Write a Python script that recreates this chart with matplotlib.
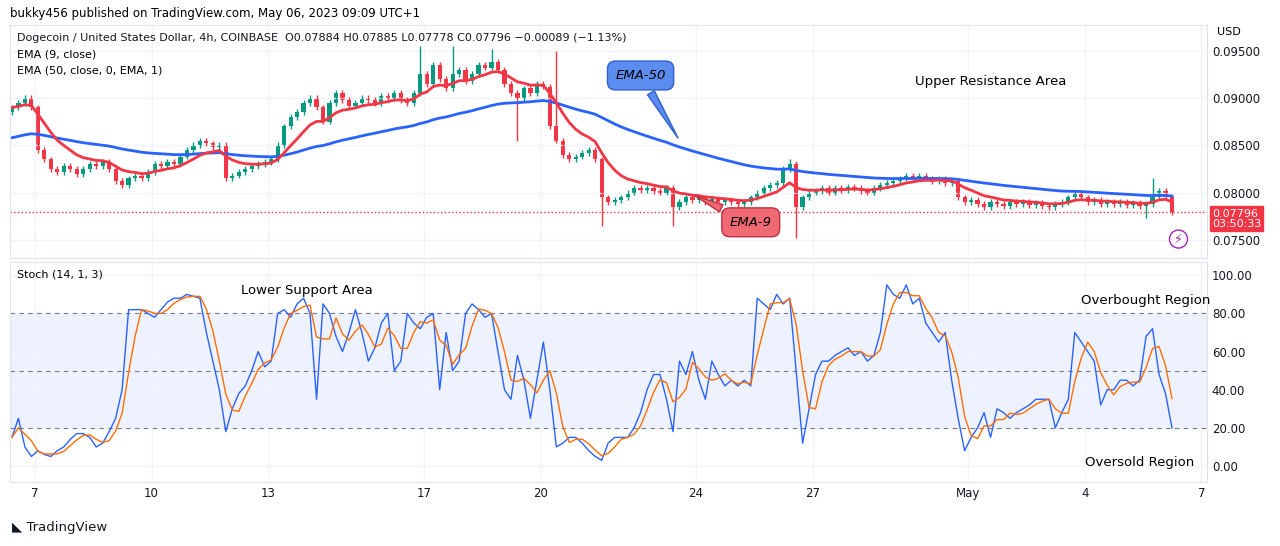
import numpy as np
import pandas as pd
import matplotlib
matplotlib.use("Agg")
import matplotlib.pyplot as plt

closes = [
0.0890,0.0895,0.0900,0.0890,0.0845,0.0835,0.0825,0.0822,0.0828,0.0825,
0.0820,0.0825,0.0830,0.0828,0.0832,0.0825,0.0812,0.0808,0.0815,0.0818,
0.0815,0.0822,0.0830,0.0828,0.0832,0.0830,0.0838,0.0845,0.0850,0.0855,
0.0852,0.0848,0.0850,0.0815,0.0818,0.0822,0.0825,0.0828,0.0830,0.0832,
0.0835,0.0850,0.0870,0.0880,0.0885,0.0895,0.0900,0.0890,0.0875,0.0895,
0.0905,0.0898,0.0892,0.0895,0.0900,0.0898,0.0895,0.0902,0.0900,0.0905,
0.0898,0.0895,0.0905,0.0925,0.0915,0.0935,0.0920,0.0910,0.0925,0.0930,
0.0918,0.0925,0.0935,0.0932,0.0938,0.0930,0.0915,0.0905,0.0900,0.0910,
0.0905,0.0915,0.0912,0.0870,0.0855,0.0840,0.0835,0.0838,0.0842,0.0845,
0.0835,0.0795,0.0790,0.0792,0.0795,0.0800,0.0805,0.0803,0.0805,0.0802,
0.0800,0.0805,0.0785,0.0790,0.0795,0.0792,0.0795,0.0790,0.0793,0.0790,
0.0792,0.0790,0.0788,0.0790,0.0795,0.0800,0.0805,0.0808,0.0810,0.0825,
0.0830,0.0785,0.0795,0.0800,0.0802,0.0805,0.0800,0.0805,0.0803,0.0806,
0.0805,0.0802,0.0800,0.0805,0.0808,0.0810,0.0812,0.0815,0.0818,0.0815,
0.0818,0.0815,0.0812,0.0815,0.0810,0.0812,0.0795,0.0790,0.0792,0.0788,
0.0785,0.0790,0.0788,0.0786,0.0790,0.0788,0.0790,0.0787,0.0789,0.0786,
0.0785,0.0788,0.0790,0.0795,0.0800,0.0795,0.0790,0.0792,0.0788,0.0790,
0.0788,0.0790,0.0787,0.0789,0.0786,0.0788,0.0795,0.0802,0.0795,0.07796]
first_open = 0.0885
spikes = {63: (0.0955, None), 68: (0.0955, None), 74: (0.0952, None), 78: (None, 0.0855),
          84: (0.0950, None), 91: (None, 0.0765), 102: (None, 0.0765), 120: (0.0835, None),
          121: (None, 0.0752), 176: (0.0815, None), 175: (None, 0.0773)}
stoch_k = [
15,25,10,5,8,6,5,8,10,14, 17,17,15,10,12,18,25,40,82,82,
82,80,78,82,86,88,88,90,89,88, 70,55,40,18,30,38,42,50,60,52,
55,80,82,78,85,88,80,35,85,80, 68,60,70,82,70,55,62,75,80,50,
55,80,75,72,78,80,40,70,50,55, 80,85,82,78,80,60,40,35,58,45,
25,45,65,40,10,12,15,15,12,8, 5,3,12,15,15,15,20,28,40,48,
48,35,18,55,48,60,45,35,55,48, 42,45,42,45,42,88,85,82,90,85,
88,50,12,30,48,55,55,58,60,62, 58,60,55,58,70,95,90,88,95,85,
88,75,70,65,70,45,25,8,15,20, 28,15,30,28,25,28,30,32,35,35,
35,20,28,35,70,65,60,55,32,40, 40,45,45,42,45,68,72,48,38,20]
ema50_seed = 0.0858
day_labels = ["7","10","13","17","20","24","27","May","4","7"]
day_offsets = [0,3,6,10,13,17,20,24,27,30]
price_ticks = [0.075,0.080,0.085,0.090,0.095]
stoch_ticks = [0,20,40,60,80,100]

GREEN, RED, BLUE, ORANGE = "#089981", "#f23645", "#2962ff", "#ff6d00"
c = np.array(closes); n = len(c)
o = np.concatenate([[first_open], c[:-1]])
hi = np.maximum(o, c) + 0.0003; lo = np.minimum(o, c) - 0.0003
for i,(h,l) in spikes.items():
    if h: hi[i] = h
    if l: lo[i] = l
idx = np.arange(n)
ema9 = pd.Series(c).ewm(span=9, adjust=False).mean()
e50 = [ema50_seed]; a = 2/51
for v in c[1:]: e50.append(e50[-1] + a*(v - e50[-1]))
k = pd.Series(stoch_k, dtype=float); d = k.rolling(3, min_periods=1).mean()
xt = [3.55 + 6.0*dd for dd in day_offsets]

fig = plt.figure(figsize=(12.8,5.46), dpi=100)
ax = fig.add_axes([10/1280, 1-258/546, 1197/1280, 233/546])
ax2 = fig.add_axes([10/1280, 1-482/546, 1197/1280, 220/546])
for a_ in (ax, ax2):
    a_.set_xlim(-0.3, 184.4)
    for s in a_.spines.values(): s.set_color("#e0e3eb")
    a_.set_xticks(xt); a_.grid(True, color="#f0f3fa", lw=1)
    a_.yaxis.tick_right(); a_.tick_params(length=0, labelsize=8.5, colors="#131722")
ax.set_xticklabels([])
ax2.set_xticklabels(day_labels)
cols = np.where(c >= o, GREEN, RED)
ax.vlines(idx, lo, hi, colors=cols, lw=1)
ax.bar(idx, np.abs(c-o)+1e-6, bottom=np.minimum(o,c), width=0.65, color=cols)
ax.plot(idx, e50, color=BLUE, lw=2)
ax.plot(idx, ema9, color=RED, lw=2)
ax.axhline(c[-1], color=RED, ls=":", lw=1)
ax.set_ylim(0.0731, 0.0977)
ax.set_yticks(price_ticks); ax.set_yticklabels([f"{t:.5f}" for t in price_ticks])
ax.text(1.004, (c[-1]-0.0731)/(0.0977-0.0731) - 0.03, f"{c[-1]:.5f}\n03:50:33", transform=ax.transAxes,
        color="white", fontsize=8, va="center", linespacing=1.1, bbox=dict(fc=RED, ec=RED, pad=1.5))
ax.text(1.008, 0.97, "USD", transform=ax.transAxes, fontsize=8, va="center")
ax.text(0.006, 0.93, "Dogecoin / United States Dollar, 4h, COINBASE  O0.07884 H0.07885 L0.07778 C0.07796 −0.00089 (−1.13%)",
        transform=ax.transAxes, fontsize=8, color="#131722")
ax.text(0.006, 0.86, "EMA (9, close)", transform=ax.transAxes, fontsize=8)
ax.text(0.006, 0.79, "EMA (50, close, 0, EMA, 1)", transform=ax.transAxes, fontsize=8)
ax.text(151, 0.0914, "Upper Resistance Area", fontsize=9.5, ha="center")
ax.annotate("EMA-50", xy=(103, 0.0855), xytext=(97, 0.0920), fontsize=9.5, style="italic", ha="center",
            bbox=dict(boxstyle="round,pad=0.6", fc="#5b8def", ec="#3060d0"),
            arrowprops=dict(arrowstyle="wedge,tail_width=0.6", fc="#5b8def", ec="#3060d0"))
ax.annotate("EMA-9", xy=(105, 0.0798), xytext=(114, 0.0765), fontsize=9.5, style="italic", ha="center",
            bbox=dict(boxstyle="round,pad=0.6", fc="#ef6a72", ec="#c03040"),
            arrowprops=dict(arrowstyle="wedge,tail_width=0.6", fc="#ef6a72", ec="#c03040"))
ax.text(180, 0.0751, "⚡", color="#9c27b0", fontsize=9, ha="center", va="center",
        bbox=dict(boxstyle="circle,pad=0.2", fc="white", ec="#9c27b0"))

ax2.set_ylim(-8.4, 107)
ax2.set_yticks(stoch_ticks); ax2.set_yticklabels([f"{t:.2f}" for t in stoch_ticks])
ax2.axhspan(20, 80, color=BLUE, alpha=0.08, lw=0)
for lv in (20, 50, 80): ax2.axhline(lv, color="#787b86", ls=(0,(4,4)), lw=0.8)
ax2.plot(idx, k, color=BLUE, lw=1)
ax2.plot(idx, d, color=ORANGE, lw=1)
ax2.text(0.006, 0.93, "Stoch (14, 1, 3)", transform=ax2.transAxes, fontsize=8)
ax2.text(45.5, 90, "Lower Support Area", fontsize=9.5, ha="center")
ax2.text(175, 85, "Overbought Region", fontsize=9.5, ha="center")
ax2.text(174, 0, "Oversold Region", fontsize=9.5, ha="center")

fig.text(10/1280, 1-14/546, "bukky456 published on TradingView.com, May 06, 2023 09:09 UTC+1", fontsize=8.5, va="center")
fig.text(12/1280, 1-528/546, "◣ TradingView", fontsize=9.5, va="center", color="#131722")
fig.savefig("out.png", dpi=100)
